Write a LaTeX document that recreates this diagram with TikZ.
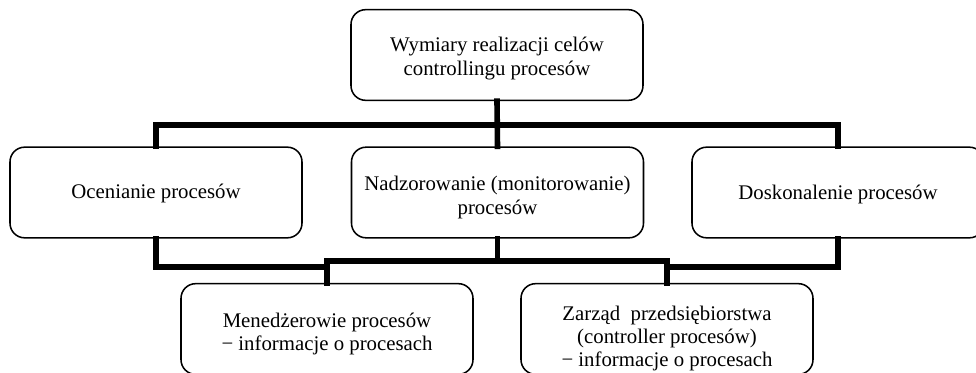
\documentclass[tikz,border=0pt]{standalone}
\usepackage{fontspec}
\setmainfont{Liberation Serif}
\begin{document}
\begin{tikzpicture}[x=0.75pt,y=-0.75pt,
  box/.style={draw=black, line width=1.15pt, rounded corners=11pt, fill=white,
    minimum width=219pt, minimum height=68pt, inner sep=0pt},
  txt/.style={align=center, inner sep=0pt, font=\fontsize{15.6}{17.3}\selectfont},
  conn/.style={line width=4.2pt, line join=miter, line cap=rect}]
\useasboundingbox (0,0) rectangle (976,372);
\clip (0,0) rectangle (976,372);
\fill[white] (0,0) rectangle (976,372);
\coordinate (bar) at (497,125);
\coordinate (lowA) at (0,267);
\coordinate (lowB) at (0,261);
% boxes
\node[box] (top) at (497,55) {};
\node[box] (left) at (156,192.5) {};
\node[box] (mid) at (497.5,192.5) {};
\node[box] (right) at (838,192.5) {};
\node[box] (bl) at (327,329) {};
\node[box] (br) at (667,329) {};
% texts
\node[txt] (topT) at (497,58.5) {Wymiary realizacji celów\\controllingu procesów};
\node[txt] (leftT) at (156,193.5) {Ocenianie procesów};
\node[txt] (midT) at (497.5,197.5) {Nadzorowanie (monitorowanie)\\procesów};
\node[txt] (rightT) at (838,194) {Doskonalenie procesów};
\node[txt] (blT) at (327,334) {Menedżerowie procesów\\− informacje o procesach};
\node[txt] (brT) at (667,338.5) {Zarząd~~przedsiębiorstwa\\(controller procesów)\\− informacje o procesach};
% connectors
\draw[conn] (top.south) -- (mid.north);
\draw[conn] (left.north) -- (left.north |- bar) -- (right.north |- bar) -- (right.north);
\draw[conn] (left.south) -- (left.south |- lowA) -- (bl.north |- lowA);
\draw[conn] (bl.north |- lowB) -- (bl.north);
\draw[conn] (bl.north |- lowB) -- (br.north |- lowB) -- (br.north);
\draw[conn] (mid.south) -- (mid.south |- lowB);
\draw[conn] (right.south) -- (right.south |- lowA) -- (br.north |- lowA);
\end{tikzpicture}
\end{document}
